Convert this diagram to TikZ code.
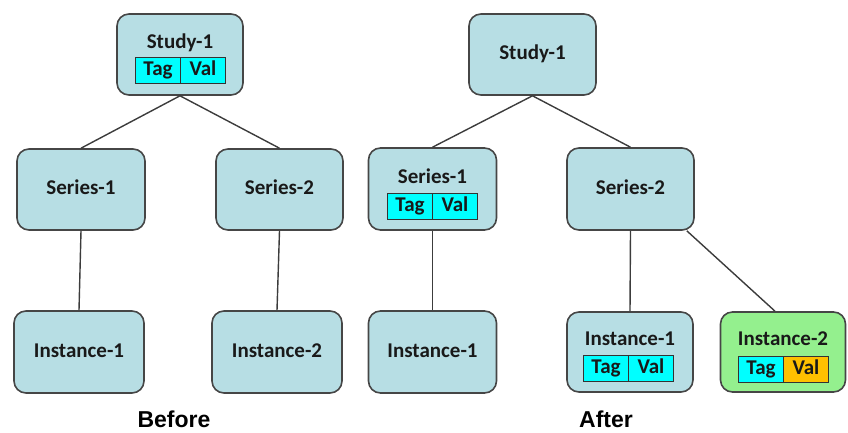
\documentclass[tikz,border=0pt]{standalone}
\usepackage{fontspec}
\setmainfont{Carlito}
\newfontfamily\labfont{Liberation Sans}
\usetikzlibrary{calc}
\definecolor{boxfill}{RGB}{183,222,228}
\definecolor{boxline}{RGB}{70,70,70}
\definecolor{linkcol}{RGB}{60,60,60}
\definecolor{titletext}{RGB}{25,25,25}
\definecolor{cyanc}{RGB}{0,255,255}
\definecolor{orangec}{RGB}{255,192,0}
\definecolor{greenc}{RGB}{148,240,142}
\begin{document}
\begin{tikzpicture}[x=1pt,y=-1pt,
  box/.style={draw=boxline, line width=1.6pt, rounded corners=12pt, fill=boxfill, inner sep=0pt},
  title/.style={font=\fontsize{21}{25}\selectfont\bfseries, text=titletext, inner sep=0pt, text height=14pt, text depth=4pt},
  cell/.style={draw=black!80, line width=1pt, fill=cyanc, minimum width=45pt, minimum height=26pt, inner sep=0pt,
    text height=14pt, text depth=4pt, font=\fontsize{21}{25}\selectfont\bfseries, text=titletext},
  link/.style={draw=linkcol, line width=1.4pt},
  caption/.style={font=\labfont\fontsize{23}{26}\selectfont\bfseries, inner sep=0pt}]
\useasboundingbox (0,0) rectangle (848,432);

% ---------- Before ----------
\node[box, minimum width=126pt, minimum height=81pt] (sL) at (180,54.5) {};
\node[box, minimum width=128pt, minimum height=81pt] (rL1) at (81,189.5) {};
\node[box, minimum width=127pt, minimum height=81pt] (rL2) at (279.5,189.5) {};
\node[box, minimum width=130pt, minimum height=82pt] (iL1) at (79,352) {};
\node[box, minimum width=130pt, minimum height=82pt] (iL2) at (277,352) {};

\node[title] (sLt) at (180,43) {Study-1};
\node[cell] (sLtag) at (158,70) {Tag};
\node[cell] (sLval) at (203,70) {Val};
\node[title] (rL1t) at (81,189.5) {Series-1};
\node[title] (rL2t) at (279.5,189.5) {Series-2};
\node[title] (iL1t) at (79,352) {Instance-1};
\node[title] (iL2t) at (277,352) {Instance-2};

\draw[link] (sL.south) -- (rL1.north);
\draw[link] (sL.south) -- (rL2.north);
\draw[link] (rL1.south) -- (iL1.north);
\draw[link] (rL2.south) -- (iL2.north);

\node[caption] (before) at (174,419) {Before};

% ---------- After ----------
\node[box, minimum width=127pt, minimum height=81pt] (sR) at (532.5,54.5) {};
\node[box, minimum width=128pt, minimum height=82pt] (rR1) at (432.5,189) {};
\node[box, minimum width=127pt, minimum height=82pt] (rR2) at (630.5,189) {};
\node[box, minimum width=128pt, minimum height=82pt] (iR0) at (432.5,352) {};
\node[box, minimum width=126pt, minimum height=80pt] (iR1) at (630,352) {};
\node[box, minimum width=125pt, minimum height=80pt, fill=greenc] (iR2) at (783,352) {};

\node[title] (sRt) at (532.5,54.5) {Study-1};
\node[title] (rR1t) at (432.5,178) {Series-1};
\node[cell] (rR1tag) at (410,206) {Tag};
\node[cell] (rR1val) at (455,206) {Val};
\node[title] (rR2t) at (630.5,189) {Series-2};
\node[title] (iR0t) at (432.5,352) {Instance-1};
\node[title] (iR1t) at (630,340) {Instance-1};
\node[cell] (iR1tag) at (606,368.5) {Tag};
\node[cell] (iR1val) at (651,368.5) {Val};
\node[title] (iR2t) at (783,340) {Instance-2};
\node[cell] (iR2tag) at (761,369) {Tag};
\node[cell, fill=orangec] (iR2val) at (806,369) {Val};

\draw[link] (sR.south) -- (rR1.north);
\draw[link] (sR.south) -- (rR2.north);
\draw[link] (rR1.south) -- (iR0.north);
\draw[link] (rR2.south) -- (iR1.north);
\draw[link] ($(rR2.south east)+(-8,0)$) -- ($(iR2.north)+(-8,0)$);

\node[caption] (after) at (606,419) {After};
\end{tikzpicture}
\end{document}
